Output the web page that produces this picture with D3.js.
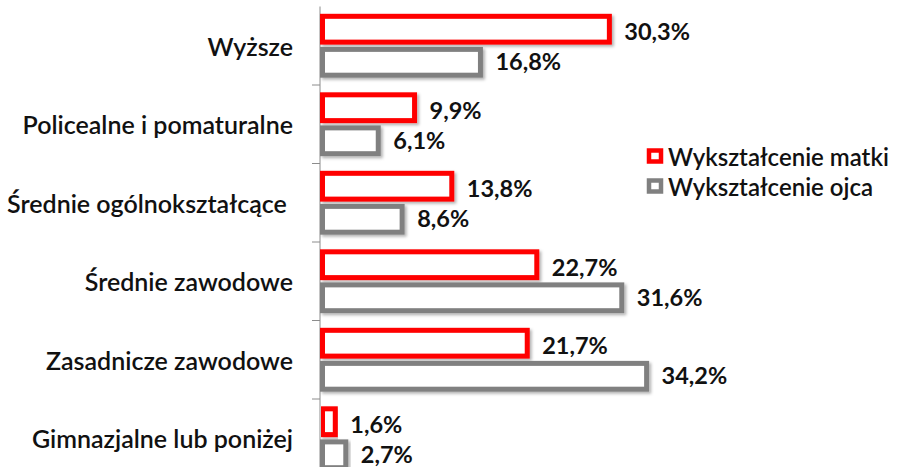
<!DOCTYPE html>
<html>
<head>
<meta charset="utf-8">
<script src="https://cdn.jsdelivr.net/npm/d3@7.9.0/dist/d3.min.js"></script>
<style>
  html, body { margin: 0; padding: 0; background: #fff; }
  svg { display: block; font-family: "Lato", "Open Sans", sans-serif; }
</style>
</head>
<body>
<svg id="chart" width="897" height="467"></svg>
<script>
const categories = [
  "Wyższe",
  "Policealne i pomaturalne",
  "Średnie ogólnokształcące ",
  "Średnie zawodowe",
  "Zasadnicze zawodowe",
  "Gimnazjalne lub poniżej"
];
const matki = [30.3, 9.9, 13.8, 22.7, 21.7, 1.6];
const ojca = [16.8, 6.1, 8.6, 31.6, 34.2, 2.7];
const seriesNames = ["Wykształcenie matki", "Wykształcenie ojca"];
const seriesColors = ["#ff0000", "#808080"];

const svg = d3.select("#chart");
const stroke = 5;
const pad = 0.25;

const x = d3.scaleLinear().domain([0, 40]).range([320, 702]);
const y = d3.scaleBand()
  .domain(categories)
  .range([6.5, 477.5])
  .paddingInner(pad)
  .paddingOuter(pad / 2);
const y1 = d3.scaleBand()
  .domain(seriesNames)
  .range([0, y.bandwidth()])
  .paddingInner(0.22);

const fmt = v => d3.format(".1f")(v).replace(".", ",") + "%";

// drop shadow like the Excel bars
const defs = svg.append("defs");
defs.append("filter")
  .attr("id", "shadow")
  .attr("x", "-10%").attr("y", "-30%")
  .attr("width", "130%").attr("height", "180%")
  .append("feDropShadow")
  .attr("dx", 2).attr("dy", 2)
  .attr("stdDeviation", 1.5)
  .attr("flood-color", "#000")
  .attr("flood-opacity", 0.3);

// vertical axis line and boundary ticks
svg.append("line")
  .attr("x1", x(0)).attr("x2", x(0))
  .attr("y1", 6.5).attr("y2", 467)
  .attr("stroke", "#8c8c8c").attr("stroke-width", 1);

svg.selectAll(".tick-b")
  .data(categories.slice(1))
  .enter()
  .append("line")
  .attr("x1", x(0) - 8).attr("x2", x(0))
  .attr("y1", d => y(d) - y.step() * pad / 2)
  .attr("y2", d => y(d) - y.step() * pad / 2)
  .attr("stroke", "#8c8c8c").attr("stroke-width", 1);

// category labels
svg.selectAll(".cat")
  .data(categories)
  .enter()
  .append("text")
  .attr("x", 293)
  .attr("y", d => y(d) + y.bandwidth() / 2)
  .attr("text-anchor", "end")
  .attr("dominant-baseline", "central")
  .style("white-space", "pre")
  .attr("font-size", 25)
  .attr("font-weight", 600)
  .attr("fill", "#111")
  .text(d => d);

const series = [matki, ojca];
series.forEach((vals, si) => {
  const name = seriesNames[si];
  const g = svg.append("g");
  g.selectAll("rect")
    .data(vals)
    .enter()
    .append("rect")
    .attr("x", x(0) + stroke / 2)
    .attr("y", (d, i) => y(categories[i]) + y1(name))
    .attr("width", d => x(d) - x(0) - stroke / 2)
    .attr("height", y1.bandwidth())
    .attr("fill", "#fff")
    .attr("stroke", seriesColors[si])
    .attr("stroke-width", stroke)
    .attr("filter", "url(#shadow)");

  g.selectAll("text")
    .data(vals)
    .enter()
    .append("text")
    .attr("x", d => x(d) + 15)
    .attr("y", (d, i) => y(categories[i]) + y1(name) + y1.bandwidth() / 2 + (si === 0 ? 2 : -1))
    .attr("dominant-baseline", "central")
    .attr("font-size", 23.5)
    .attr("font-weight", 700)
    .attr("fill", "#111")
    .text(d => fmt(d));
});

// legend
const legend = svg.append("g");
seriesNames.forEach((name, i) => {
  const ly = 156 + i * 30;
  legend.append("rect")
    .attr("x", 649).attr("y", ly - 5.5)
    .attr("width", 12).attr("height", 11)
    .attr("fill", "#fff")
    .attr("stroke", seriesColors[i])
    .attr("stroke-width", 4.5);
  legend.append("text")
    .attr("x", 668).attr("y", ly)
    .attr("dominant-baseline", "central")
    .attr("font-size", 24)
    .attr("font-weight", 600)
    .attr("fill", "#111")
    .text(name);
});
</script>
</body>
</html>
